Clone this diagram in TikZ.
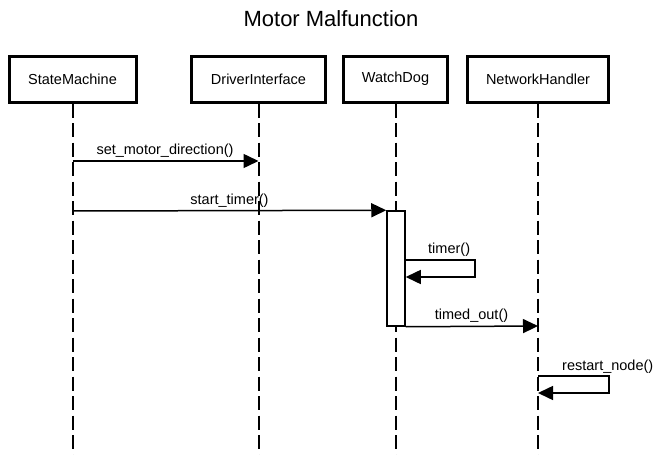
\documentclass[tikz,border=0pt]{standalone}
\usepackage{fontspec}
\setmainfont{Liberation Sans}
\usetikzlibrary{arrows.meta}
\begin{document}
\begin{tikzpicture}[x=1pt,y=-1pt,
  actor/.style={draw,line width=3pt,minimum height=46pt,inner sep=0pt,font=\fontsize{14.5}{16}\selectfont},
  lifeline/.style={line width=2pt,dash pattern=on 14pt off 5.5pt},
  msg/.style={line width=1.5pt,-{Triangle[length=15pt,width=14pt]}},
  lbl/.style={inner sep=0pt,font=\fontsize{14.5}{16}\selectfont},
  activation/.style={draw,fill=white,line width=1.5pt,minimum width=18pt,minimum height=115pt,inner sep=0pt}]
\useasboundingbox (0,0) rectangle (662,455);
\node[inner sep=0pt,anchor=base,font=\fontsize{22}{25}\selectfont] (title) at (331,27) {Motor Malfunction};
\node[actor,minimum width=127pt] (sm) at (72.5,79) {StateMachine};
\node[actor,minimum width=134pt] (di) at (258.5,79) {DriverInterface};
\node[actor,minimum width=104pt] (wd) at (395.5,79) {WatchDog};
\node[actor,minimum width=141pt] (nh) at (538,79) {NetworkHandler};
\coordinate (smE) at (sm.south |- 0,455);
\coordinate (diE) at (di.south |- 0,455);
\coordinate (wdE) at (wd.south |- 0,455);
\coordinate (nhE) at (nh.south |- 0,455);
\draw[lifeline] (sm.south) -- (smE);
\draw[lifeline] (di.south) -- (diE);
\draw[lifeline] (wd.south) -- (wdE);
\draw[lifeline] (nh.south) -- (nhE);
% activation
\node[activation] (act) at (396,268.5) {};
% set_motor_direction
\coordinate (m1a) at (sm.south |- 0,161);
\coordinate (m1b) at (di.south |- 0,161);
\draw[msg] (m1a) -- (m1b);
\node[lbl,anchor=base] (l1) at (165,154) {set\_motor\_direction()};
% start_timer
\coordinate (m2a) at (sm.south |- 0,211);
\draw[msg] (m2a) -- (act.north west);
\node[lbl,anchor=base] (l2) at (229.5,204) {start\_timer()};
% timer self
\coordinate (m3a) at (act.east |- 0,260);
\coordinate (m3b) at (475,260);
\coordinate (m3c) at (475,277);
\coordinate (m3d) at (act.east |- 0,277);
\draw[msg] (m3a) -- (m3b) -- (m3c) -- (m3d);
\node[lbl,anchor=base west] (l3) at (428,253) {timer()};
% timed_out
\coordinate (m4b) at (nh.south |- 0,326);
\draw[msg] (act.south east) -- (m4b);
\node[lbl,anchor=base] (l4) at (471.5,319) {timed\_out()};
% restart_node self
\coordinate (m5a) at (nh.south |- 0,376);
\coordinate (m5b) at (609,376);
\coordinate (m5c) at (609,393);
\coordinate (m5d) at (nh.south |- 0,393);
\draw[msg] (m5a) -- (m5b) -- (m5c) -- (m5d);
\node[lbl,anchor=base west] (l5) at (562,370) {restart\_node()};
\end{tikzpicture}
\end{document}
